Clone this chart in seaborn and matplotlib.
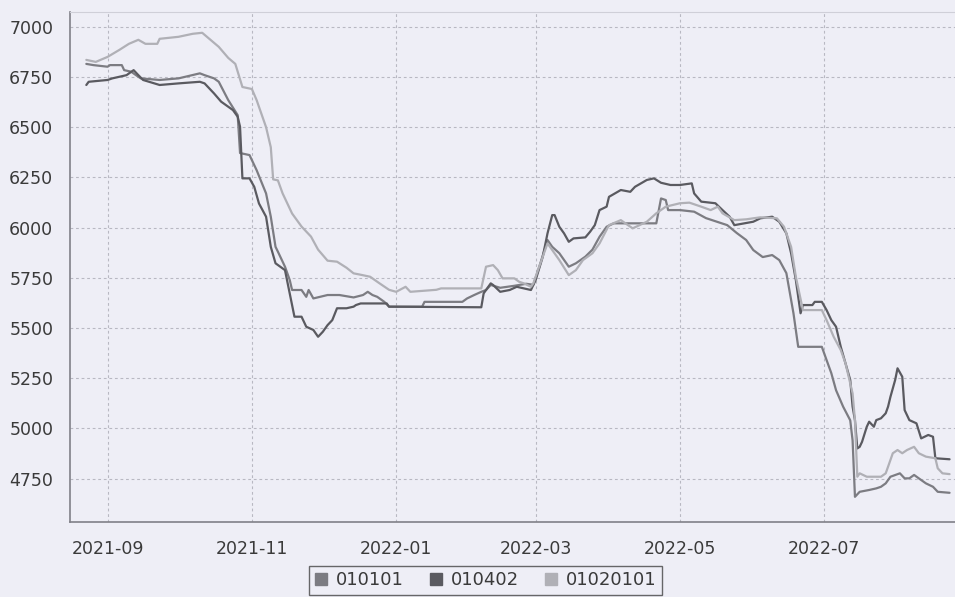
import pandas as pd
import seaborn as sns
import matplotlib
matplotlib.use("Agg")
import matplotlib.pyplot as plt
import matplotlib.dates as mdates
from matplotlib.lines import Line2D

# --- data --------------------------------------------------------------------
series_names = ["010101", "010402", "01020101"]

dates_010101 = [
    "2021-08-23", "2021-08-26", "2021-09-01", "2021-09-02", "2021-09-07", "2021-09-08",
    "2021-09-11", "2021-09-13", "2021-09-15", "2021-09-23", "2021-10-01", "2021-10-10",
    "2021-10-12", "2021-10-16", "2021-10-18", "2021-10-22", "2021-10-26", "2021-10-27",
    "2021-10-31", "2021-11-03", "2021-11-07", "2021-11-09", "2021-11-11", "2021-11-12",
    "2021-11-13", "2021-11-15", "2021-11-17", "2021-11-18", "2021-11-22", "2021-11-24",
    "2021-11-25", "2021-11-27", "2021-12-03", "2021-12-08", "2021-12-14", "2021-12-18",
    "2021-12-20", "2021-12-22", "2021-12-24", "2021-12-27", "2021-12-29", "2022-01-12",
    "2022-01-13", "2022-01-29", "2022-01-31", "2022-02-03", "2022-02-06", "2022-02-08",
    "2022-02-10", "2022-02-14", "2022-02-20", "2022-02-25", "2022-02-28", "2022-03-03",
    "2022-03-06", "2022-03-08", "2022-03-11", "2022-03-15", "2022-03-18", "2022-03-22",
    "2022-03-25", "2022-03-28", "2022-03-31", "2022-04-03", "2022-04-21", "2022-04-23",
    "2022-04-25", "2022-04-26", "2022-05-01", "2022-05-07", "2022-05-12", "2022-05-21",
    "2022-05-25", "2022-05-29", "2022-06-01", "2022-06-05", "2022-06-09", "2022-06-12",
    "2022-06-15", "2022-06-18", "2022-06-20", "2022-06-30", "2022-07-02", "2022-07-04",
    "2022-07-06", "2022-07-09", "2022-07-12", "2022-07-13", "2022-07-14", "2022-07-16",
    "2022-07-20", "2022-07-23", "2022-07-25", "2022-07-27", "2022-07-29", "2022-08-02",
    "2022-08-04", "2022-08-06", "2022-08-08", "2022-08-10", "2022-08-13", "2022-08-16",
    "2022-08-18", "2022-08-23",
]
values_010101 = [
    6815, 6809, 6801, 6809, 6809, 6784,
    6776, 6759, 6743, 6735, 6743, 6768,
    6759, 6743, 6726, 6635, 6560, 6371,
    6361, 6286, 6170, 6054, 5904, 5880,
    5855, 5805, 5739, 5689, 5689, 5655,
    5689, 5647, 5664, 5664, 5652, 5664,
    5680, 5664, 5655, 5630, 5606, 5606,
    5630, 5630, 5647, 5664, 5680, 5689,
    5714, 5700, 5710, 5720, 5715, 5822,
    5938, 5904, 5872, 5805, 5822, 5855,
    5890, 5954, 6004, 6021, 6021, 6145,
    6137, 6087, 6087, 6079, 6047, 6012,
    5973, 5938, 5888, 5853, 5863, 5838,
    5773, 5573, 5406, 5406, 5340, 5275,
    5190, 5108, 5040, 4940, 4659, 4684,
    4693, 4701, 4709, 4726, 4759, 4776,
    4751, 4751, 4768, 4751, 4726, 4709,
    4684, 4679,
]

dates_010402 = [
    "2021-08-23", "2021-08-24", "2021-09-01", "2021-09-03", "2021-09-09", "2021-09-12",
    "2021-09-14", "2021-09-16", "2021-09-23", "2021-10-01", "2021-10-10", "2021-10-12",
    "2021-10-16", "2021-10-19", "2021-10-24", "2021-10-26", "2021-10-27", "2021-10-28",
    "2021-10-31", "2021-11-02", "2021-11-04", "2021-11-07", "2021-11-09", "2021-11-11",
    "2021-11-15", "2021-11-17", "2021-11-19", "2021-11-22", "2021-11-24", "2021-11-27",
    "2021-11-29", "2021-12-01", "2021-12-03", "2021-12-05", "2021-12-07", "2021-12-11",
    "2021-12-14", "2021-12-15", "2021-12-17", "2021-12-28", "2021-12-29", "2022-02-06",
    "2022-02-07", "2022-02-08", "2022-02-10", "2022-02-11", "2022-02-14", "2022-02-18",
    "2022-02-21", "2022-02-24", "2022-02-27", "2022-03-01", "2022-03-04", "2022-03-06",
    "2022-03-08", "2022-03-09", "2022-03-11", "2022-03-13", "2022-03-15", "2022-03-17",
    "2022-03-22", "2022-03-24", "2022-03-26", "2022-03-28", "2022-03-31", "2022-04-01",
    "2022-04-06", "2022-04-10", "2022-04-12", "2022-04-17", "2022-04-20", "2022-04-23",
    "2022-04-27", "2022-05-01", "2022-05-06", "2022-05-07", "2022-05-10", "2022-05-16",
    "2022-05-19", "2022-05-22", "2022-05-24", "2022-06-01", "2022-06-04", "2022-06-09",
    "2022-06-12", "2022-06-15", "2022-06-17", "2022-06-19", "2022-06-21", "2022-06-22",
    "2022-06-26", "2022-06-27", "2022-06-30", "2022-07-02", "2022-07-04", "2022-07-06",
    "2022-07-08", "2022-07-10", "2022-07-12", "2022-07-13", "2022-07-14", "2022-07-15",
    "2022-07-16", "2022-07-17", "2022-07-19", "2022-07-20", "2022-07-22", "2022-07-23",
    "2022-07-25", "2022-07-27", "2022-07-28", "2022-07-29", "2022-07-31", "2022-08-01",
    "2022-08-03", "2022-08-04", "2022-08-06", "2022-08-09", "2022-08-11", "2022-08-14",
    "2022-08-16", "2022-08-17", "2022-08-23",
]
values_010402 = [
    6710, 6726, 6735, 6743, 6759, 6784,
    6759, 6735, 6710, 6718, 6726, 6718,
    6668, 6627, 6585, 6552, 6502, 6245,
    6245, 6203, 6120, 6054, 5904, 5822,
    5788, 5672, 5556, 5556, 5506, 5490,
    5456, 5481, 5514, 5539, 5598, 5598,
    5606, 5614, 5622, 5622, 5606, 5603,
    5672, 5689, 5722, 5714, 5680, 5689,
    5705, 5697, 5689, 5739, 5855, 5971,
    6062, 6062, 6004, 5971, 5929, 5946,
    5951, 5979, 6012, 6087, 6104, 6153,
    6187, 6178, 6203, 6237, 6245, 6223,
    6212, 6212, 6220, 6170, 6129, 6121,
    6087, 6054, 6012, 6029, 6046, 6054,
    6029, 5971, 5872, 5739, 5573, 5614,
    5614, 5630, 5630, 5589, 5539, 5506,
    5406, 5324, 5241, 5108, 5040, 4900,
    4908, 4933, 5008, 5033, 5008, 5041,
    5050, 5075, 5108, 5157, 5241, 5299,
    5257, 5091, 5041, 5025, 4950, 4967,
    4958, 4851, 4846,
]

dates_01020101 = [
    "2021-08-23", "2021-08-27", "2021-09-01", "2021-09-06", "2021-09-10", "2021-09-14",
    "2021-09-17", "2021-09-22", "2021-09-23", "2021-10-01", "2021-10-07", "2021-10-11",
    "2021-10-14", "2021-10-18", "2021-10-22", "2021-10-25", "2021-10-28", "2021-11-01",
    "2021-11-03", "2021-11-07", "2021-11-09", "2021-11-10", "2021-11-12", "2021-11-14",
    "2021-11-18", "2021-11-22", "2021-11-26", "2021-11-29", "2021-12-03", "2021-12-07",
    "2021-12-11", "2021-12-14", "2021-12-17", "2021-12-21", "2021-12-25", "2021-12-29",
    "2022-01-01", "2022-01-05", "2022-01-07", "2022-01-18", "2022-01-20", "2022-02-06",
    "2022-02-08", "2022-02-11", "2022-02-13", "2022-02-15", "2022-02-20", "2022-02-22",
    "2022-02-24", "2022-02-27", "2022-02-28", "2022-03-03", "2022-03-06", "2022-03-08",
    "2022-03-11", "2022-03-15", "2022-03-18", "2022-03-21", "2022-03-25", "2022-03-28",
    "2022-04-01", "2022-04-06", "2022-04-11", "2022-04-17", "2022-04-21", "2022-04-25",
    "2022-05-01", "2022-05-05", "2022-05-10", "2022-05-14", "2022-05-17", "2022-05-19",
    "2022-05-24", "2022-05-29", "2022-06-04", "2022-06-11", "2022-06-14", "2022-06-17",
    "2022-06-19", "2022-06-22", "2022-06-30", "2022-07-02", "2022-07-05", "2022-07-08",
    "2022-07-10", "2022-07-11", "2022-07-13", "2022-07-14", "2022-07-15", "2022-07-16",
    "2022-07-19", "2022-07-25", "2022-07-27", "2022-07-28", "2022-07-30", "2022-08-01",
    "2022-08-03", "2022-08-05", "2022-08-08", "2022-08-10", "2022-08-13", "2022-08-17",
    "2022-08-18", "2022-08-20", "2022-08-23",
]
values_01020101 = [
    6835, 6825, 6850, 6885, 6915, 6935,
    6915, 6915, 6940, 6950, 6965, 6970,
    6940, 6900, 6845, 6815, 6700, 6690,
    6635, 6500, 6400, 6240, 6235, 6170,
    6070, 6005, 5955, 5890, 5835, 5830,
    5800, 5772, 5765, 5755, 5722, 5690,
    5680, 5705, 5680, 5690, 5697, 5697,
    5805, 5813, 5788, 5747, 5747, 5730,
    5722, 5705, 5722, 5822, 5921, 5888,
    5838, 5763, 5788, 5838, 5872, 5921,
    6012, 6037, 5996, 6029, 6071, 6104,
    6121, 6124, 6104, 6087, 6104, 6071,
    6037, 6041, 6051, 6046, 6004, 5904,
    5755, 5589, 5589, 5539, 5456, 5390,
    5324, 5274, 5174, 5041, 4759, 4776,
    4759, 4759, 4776, 4809, 4876, 4892,
    4876, 4892, 4908, 4876, 4859, 4851,
    4801, 4776, 4772,
]

y_ticks = [4750, 5000, 5250, 5500, 5750, 6000, 6250, 6500, 6750, 7000]
line_colors = {"010101": "#7c7c82", "010402": "#5a5a60", "01020101": "#b0b0b6"}

# --- build long table --------------------------------------------------------
frames = []
for name, d, v in [("010101", dates_010101, values_010101),
                   ("010402", dates_010402, values_010402),
                   ("01020101", dates_01020101, values_01020101)]:
    frames.append(pd.DataFrame({"date": pd.to_datetime(d), "value": v, "series": name}))
df = pd.concat(frames, ignore_index=True)

# --- plot --------------------------------------------------------------------
sns.set_style("white")
plt.rcParams["font.family"] = ["DejaVu Sans"]
bg = "#eeeef6"

fig = plt.figure(figsize=(9.55, 5.97), dpi=100, facecolor=bg)
ax = fig.add_axes([0.0733, 0.1251, 0.9267, 0.8553])
ax.set_facecolor(bg)

sns.lineplot(data=df, x="date", y="value", hue="series", hue_order=series_names,
             palette=line_colors, linewidth=1.6, estimator=None, legend=False, ax=ax)

start = pd.Timestamp("2021-09-01")
ax.set_xlim(start - pd.Timedelta(days=15.9), start + pd.Timedelta(days=358.3))
ax.set_ylim(4532, 7075)
ax.set_yticks(y_ticks)
ax.xaxis.set_major_locator(mdates.MonthLocator(bymonth=[1, 3, 5, 7, 9, 11]))
ax.xaxis.set_major_formatter(mdates.DateFormatter("%Y-%m"))

ax.grid(True, color="#b8b8c2", linestyle=(0, (2.5, 2.5)), linewidth=0.8)
ax.set_xlabel("")
ax.set_ylabel("")
ax.tick_params(axis="both", direction="out", length=4, width=1, color="#777777",
               labelsize=12.5, labelcolor="#3a3a3a")
ax.tick_params(axis="y", pad=8)
ax.tick_params(axis="x", pad=9)

for side in ["left", "bottom"]:
    ax.spines[side].set_color("#808088")
    ax.spines[side].set_linewidth(1.2)
ax.spines["top"].set_color("#cfcfd8")
ax.spines["top"].set_linewidth(0.8)
ax.spines["right"].set_visible(False)

handles = [Line2D([], [], linestyle="none", marker="s", markersize=9,
                  markerfacecolor=line_colors[n], markeredgecolor=line_colors[n])
           for n in series_names]
leg = fig.legend(handles, series_names, loc="upper center", bbox_to_anchor=(0.508, 0.052),
                 ncol=3, frameon=True, fancybox=False, fontsize=13, handlelength=0.8,
                 handletextpad=0.4, columnspacing=1.4, borderpad=0.3, borderaxespad=0)
leg.get_frame().set_edgecolor("#444444")
leg.get_frame().set_linewidth(1.0)
leg.get_frame().set_facecolor(bg)
for t in leg.get_texts():
    t.set_color("#3a3a3a")

fig.savefig("out.png", dpi=100, facecolor=bg)
